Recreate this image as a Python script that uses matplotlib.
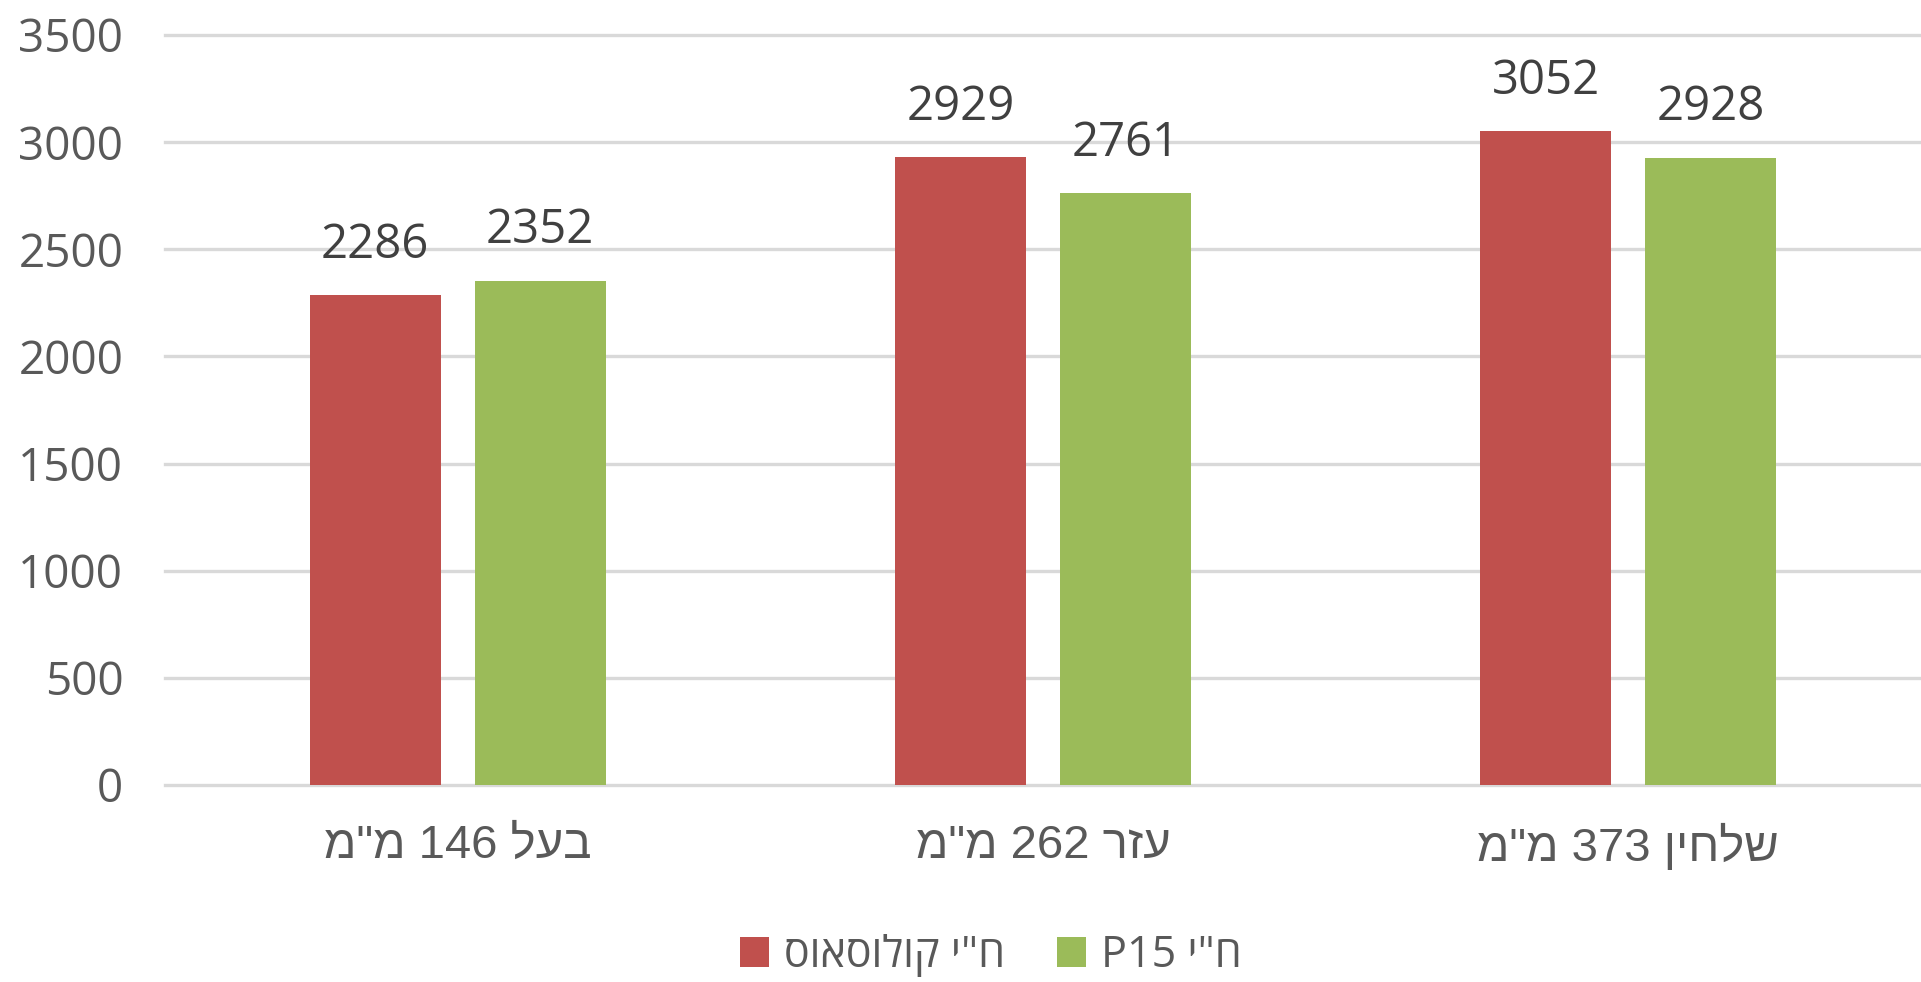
import matplotlib
matplotlib.use('Agg')
import matplotlib.pyplot as plt
from matplotlib.patches import Patch
import numpy as np

# data
categories = ['בעל 146 מ"מ', 'עזר 262 מ"מ', 'שלחין 373 מ"מ']
series_names = ['ח"י קולוסאוס', 'ח"י P15']
colossus = [2286, 2929, 3052]
p15 = [2352, 2761, 2928]
y_ticks = [0, 500, 1000, 1500, 2000, 2500, 3000, 3500]

RED = '#C0504D'
GREEN = '#9BBB59'
TEXT = '#595959'
GRID = '#D9D9D9'


def visual(text):
    # matplotlib has no bidi support: reverse hebrew words and their order
    words = text.split(' ')
    out = []
    for w in reversed(words):
        if any('\u0590' <= c <= '\u05FF' for c in w):
            out.append(w[::-1])
        else:
            out.append(w)
    return ' '.join(out)


num_font = ['Open Sans', 'DejaVu Sans']
cat_font = ['Liberation Sans', 'DejaVu Sans']

fig = plt.figure(figsize=(19.21, 9.82), dpi=100)
ax = fig.add_axes([165 / 1921, 1 - 785 / 982, 1756 / 1921, 750 / 982])

x = np.arange(len(categories))
width = 0.224
off = 0.141
bars1 = ax.bar(x - off, colossus, width, color=RED, zorder=3)
bars2 = ax.bar(x + off, p15, width, color=GREEN, zorder=3)

# value labels above the bars
for bars, vals in [(bars1, colossus), (bars2, p15)]:
    for b, v in zip(bars, vals):
        ax.annotate(str(v), (b.get_x() + b.get_width() / 2, v),
                    xytext=(0, 27), textcoords='offset points',
                    ha='center', va='baseline', fontsize=34,
                    family=num_font, color='#404040')

ax.set_xlim(-0.5, 2.5)
ax.set_ylim(0, 3500)
ax.set_yticks(y_ticks)
ax.set_yticklabels([str(t) for t in y_ticks], family=num_font, fontsize=33, color=TEXT)
ax.set_xticks(x)
ax.set_xticklabels([visual(c) for c in categories], family=cat_font, fontsize=34, color=TEXT)
ax.tick_params(axis='y', length=0, pad=30)
ax.tick_params(axis='x', length=0, pad=28)

ax.yaxis.grid(True, color=GRID, linewidth=2.4)
ax.set_axisbelow(True)
for line in ax.get_ygridlines():
    line.set_clip_on(False)
for s in ax.spines.values():
    s.set_visible(False)

handles = [Patch(facecolor=RED), Patch(facecolor=GREEN)]
leg = fig.legend(handles, [visual(n) for n in series_names],
                 loc='center', bbox_to_anchor=(991 / 1921, 1 - 956 / 982),
                 ncol=2, frameon=False,
                 prop={'family': num_font, 'size': 31},
                 handlelength=0.68, handleheight=0.68,
                 handletextpad=0.35, columnspacing=1.2)
for t in leg.get_texts():
    t.set_color(TEXT)

fig.savefig('out.png', dpi=100, facecolor='white')
